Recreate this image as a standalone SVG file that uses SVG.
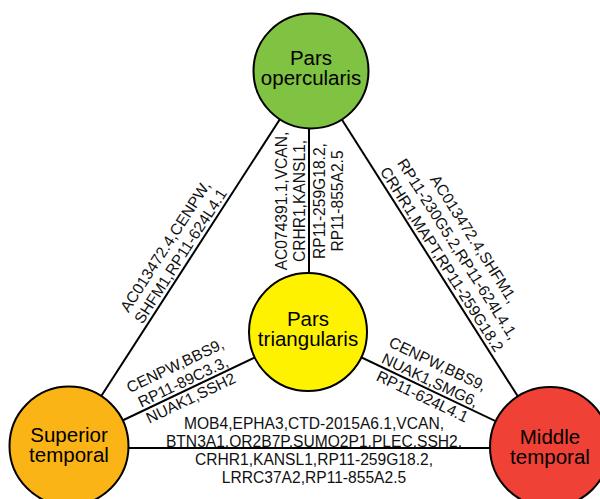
<svg xmlns="http://www.w3.org/2000/svg" width="600" height="499" viewBox="0 0 600 499">
<style>
.edge{stroke:#000;stroke-width:2;fill:none}
.node{stroke:#000;stroke-width:2}
.nl{font-family:"Liberation Sans",Arial,sans-serif;font-size:20.5px;fill:#000;text-anchor:middle}
.el{font-family:"Liberation Sans",Arial,sans-serif;font-size:15.6px;fill:#111;text-anchor:middle}
</style>
<rect width="600" height="499" fill="#fff"/>
<g id="connectors">
<line class="edge" x1="311" y1="71" x2="69" y2="446"/>
<line class="edge" x1="311" y1="71" x2="550" y2="447"/>
<line class="edge" x1="309" y1="71" x2="309" y2="332"/>
<line class="edge" x1="308" y1="332" x2="69" y2="446"/>
<line class="edge" x1="308" y1="332" x2="550" y2="447"/>
<line class="edge" x1="69" y1="448" x2="550" y2="448"/>
</g>
<g id="edge-labels">
<g transform="translate(188.3,261.2) rotate(-57.17)">
<text class="el" y="-22">AC013472.4,CENPW,</text>
<text class="el" y="-4">SHFM1,RP11-624L4.1</text>
</g>
<g transform="translate(309,201) rotate(-90)">
<text class="el" y="-22">AC074391.1,VCAN,</text>
<text class="el" y="-4">CRHR1,KANSL1,</text>
<text class="el" y="16">RP11-259G18.2,</text>
<text class="el" y="34">RP11-855A2.5</text>
</g>
<g transform="translate(433.9,264.3) rotate(57.56)">
<text class="el" y="-42">AC013472.4,SHFM1,</text>
<text class="el" y="-23">RP11-230G5.2,RP11-624L4.1,</text>
<text class="el" y="-4">CRHR1,MAPT,RP11-259G18.2</text>
</g>
<g transform="translate(186.8,389.8) rotate(-25.5)">
<text class="el" y="-21.5">CENPW,BBS9,</text>
<text class="el" y="-3.5">RP11-89C3.3,</text>
<text class="el" y="14.5">NUAK1,SSH2</text>
</g>
<g transform="translate(426.3,388.2) rotate(25.42)">
<text class="el" y="-21.5">CENPW,BBS9,</text>
<text class="el" y="-3.5">NUAK1,SMG6,</text>
<text class="el" y="14.5">RP11-624L4.1</text>
</g>
<g>
<text class="el" x="314" y="429">MOB4,EPHA3,CTD-2015A6.1,VCAN,</text>
<text class="el" x="314" y="446.5">BTN3A1,OR2B7P,SUMO2P1,PLEC,SSH2,</text>
<text class="el" x="314" y="465">CRHR1,KANSL1,RP11-259G18.2,</text>
<text class="el" x="314" y="483">LRRC37A2,RP11-855A2.5</text>
</g>
</g>
<g id="pars-opercularis">
<circle class="node" cx="311" cy="71" r="57.5" fill="#80c242"/>
<text class="nl" x="311" y="65">Pars</text>
<text class="nl" x="311" y="85">opercularis</text>
</g>
<g id="pars-triangularis">
<circle class="node" cx="308" cy="332" r="59" fill="#fff200"/>
<text class="nl" x="308" y="326">Pars</text>
<text class="nl" x="308" y="346">triangularis</text>
</g>
<g id="superior-temporal">
<circle class="node" cx="69" cy="446" r="59.5" fill="#fbb416"/>
<text class="nl" x="69" y="442">Superior</text>
<text class="nl" x="69" y="462">temporal</text>
</g>
<g id="middle-temporal">
<circle class="node" cx="550" cy="447" r="60" fill="#ef4136"/>
<text class="nl" x="550" y="444">Middle</text>
<text class="nl" x="550" y="464">temporal</text>
</g>
</svg>
